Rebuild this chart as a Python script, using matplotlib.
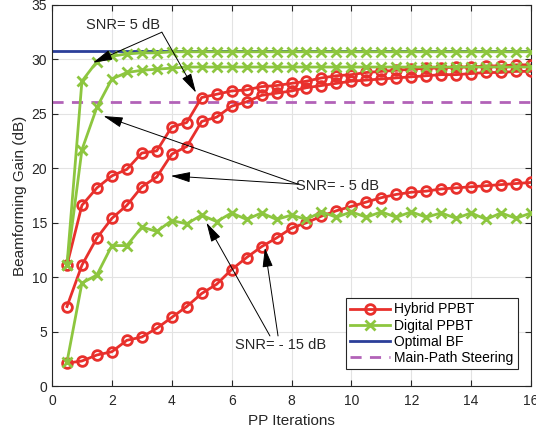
import numpy as np
import matplotlib
matplotlib.use('Agg')
import matplotlib.pyplot as plt

plt.rcParams['font.family'] = ['Liberation Sans', 'DejaVu Sans']

# PP iterations
iters = np.arange(0.5, 16.01, 0.5)

# Hybrid PPBT curves
hyb_5 = [11.1, 16.6, 18.2, 19.3, 19.9, 21.4, 21.6, 23.8, 24.2, 26.5, 26.8, 27.1,
         27.2, 27.5, 27.6, 27.8, 28.0, 28.3, 28.5, 28.6, 28.8, 28.9, 29.0, 29.1,
         29.2, 29.2, 29.3, 29.3, 29.4, 29.4, 29.5, 29.5]
hyb_m5 = [7.3, 11.1, 13.6, 15.4, 16.6, 18.3, 19.2, 21.3, 22.0, 24.3, 24.7, 25.7,
          26.1, 26.7, 26.9, 27.1, 27.4, 27.6, 27.8, 28.0, 28.1, 28.2, 28.3, 28.4,
          28.5, 28.6, 28.6, 28.7, 28.8, 28.8, 28.9, 28.9]
hyb_m15 = [2.1, 2.3, 2.85, 3.15, 4.2, 4.5, 5.3, 6.3, 7.3, 8.5, 9.35, 10.7,
           11.8, 12.8, 13.6, 14.5, 15.0, 15.6, 16.1, 16.5, 16.9, 17.3, 17.6, 17.8,
           17.9, 18.1, 18.2, 18.3, 18.4, 18.5, 18.6, 18.7]

# Digital PPBT curves
dig_5 = [11.1, 28.0, 29.8, 30.3, 30.5, 30.6, 30.6, 30.7, 30.7, 30.7, 30.7, 30.7,
         30.7, 30.7, 30.7, 30.7, 30.7, 30.7, 30.7, 30.7, 30.7, 30.7, 30.7, 30.7,
         30.7, 30.7, 30.7, 30.7, 30.7, 30.7, 30.7, 30.7]
dig_m5 = [11.1, 21.7, 25.6, 28.2, 28.8, 29.0, 29.1, 29.2, 29.3, 29.3, 29.3, 29.3,
          29.3, 29.3, 29.3, 29.3, 29.3, 29.3, 29.3, 29.3, 29.3, 29.3, 29.3, 29.3,
          29.3, 29.3, 29.3, 29.3, 29.3, 29.3, 29.3, 29.3]
dig_m15 = [2.2, 9.45, 10.2, 12.9, 12.9, 14.6, 14.2, 15.2, 14.9, 15.7, 15.1, 15.9,
           15.3, 15.9, 15.3, 15.7, 15.3, 16.0, 15.5, 16.0, 15.5, 16.0, 15.5, 16.0,
           15.5, 15.9, 15.4, 15.9, 15.3, 15.9, 15.4, 15.9]

optimal_bf = 30.8
main_path = 26.1

red = '#E8302C'
green = '#8DC63F'
blue = '#2B3F99'
purple = '#B262B8'

fig = plt.figure(figsize=(5.36, 4.33), dpi=100)
ax = fig.add_axes([0.097, 0.1085, 0.8937, 0.88])

lw = 2.0
# hybrid
for i, y in enumerate([hyb_5, hyb_m5, hyb_m15]):
    ax.plot(iters, y, color=red, lw=lw, marker='o', ms=7, mfc='none', mew=2.0,
            label='Hybrid PPBT' if i == 0 else None, zorder=3)
# digital
for i, y in enumerate([dig_5, dig_m5, dig_m15]):
    ax.plot(iters, y, color=green, lw=lw, marker='x', ms=7.5, mew=2.0,
            label='Digital PPBT' if i == 0 else None, zorder=3)

ax.axhline(optimal_bf, color=blue, lw=lw, label='Optimal BF', zorder=2)
ax.axhline(main_path, color=purple, lw=lw, ls=(0, (4, 3)), label='Main-Path Steering', zorder=2)

ax.set_xlim(0, 16)
ax.set_ylim(0, 35)
ax.set_xticks(np.arange(0, 17, 2))
ax.set_yticks(np.arange(0, 36, 5))
ax.grid(True, color='#e3e3e3', lw=0.8)
ax.set_axisbelow(True)
ax.tick_params(direction='in', top=True, right=True, labelsize=10, colors='#262626', length=4)
ax.tick_params(axis='x', pad=6)
for s in ax.spines.values():
    s.set_color('#262626')
    s.set_linewidth(0.8)
ax.set_xlabel('PP Iterations', fontsize=11, color='#262626', labelpad=4)
ax.set_ylabel('Beamforming Gain (dB)', fontsize=11, color='#262626', labelpad=3)

leg = ax.legend(loc='lower right', bbox_to_anchor=(0.972, 0.045), fontsize=10, frameon=True,
                fancybox=False, edgecolor='#262626', framealpha=1, handlelength=2.9,
                borderpad=0.3, labelspacing=0.15, handletextpad=0.3, borderaxespad=0)
leg.get_frame().set_linewidth(0.8)

# annotations: text (x, y), and arrows (start, tip)
labels = [('SNR= 5 dB', (2.37, 33.2)),
          ('SNR= - 5 dB', (9.55, 18.35)),
          ('SNR= - 15 dB', (7.62, 3.77))]
arrows = [((3.67, 32.5), (1.37, 29.7)),
          ((3.67, 32.5), (4.81, 26.95)),
          ((8.22, 18.54), (1.72, 24.8)),
          ((8.22, 18.54), (3.97, 19.3)),
          ((7.28, 4.6), (5.16, 15.0)),
          ((7.55, 4.6), (7.11, 12.7))]
for txt, pos in labels:
    ax.text(pos[0], pos[1], txt, ha='center', va='center', fontsize=10.5, color='#262626', zorder=5)
for start, tip in arrows:
    ax.annotate('', xy=tip, xytext=start,
                arrowprops=dict(arrowstyle='-|>,head_length=1.2,head_width=0.32',
                                color='k', lw=0.7, shrinkA=0, shrinkB=0), zorder=5)

fig.savefig('out.png', dpi=100)
